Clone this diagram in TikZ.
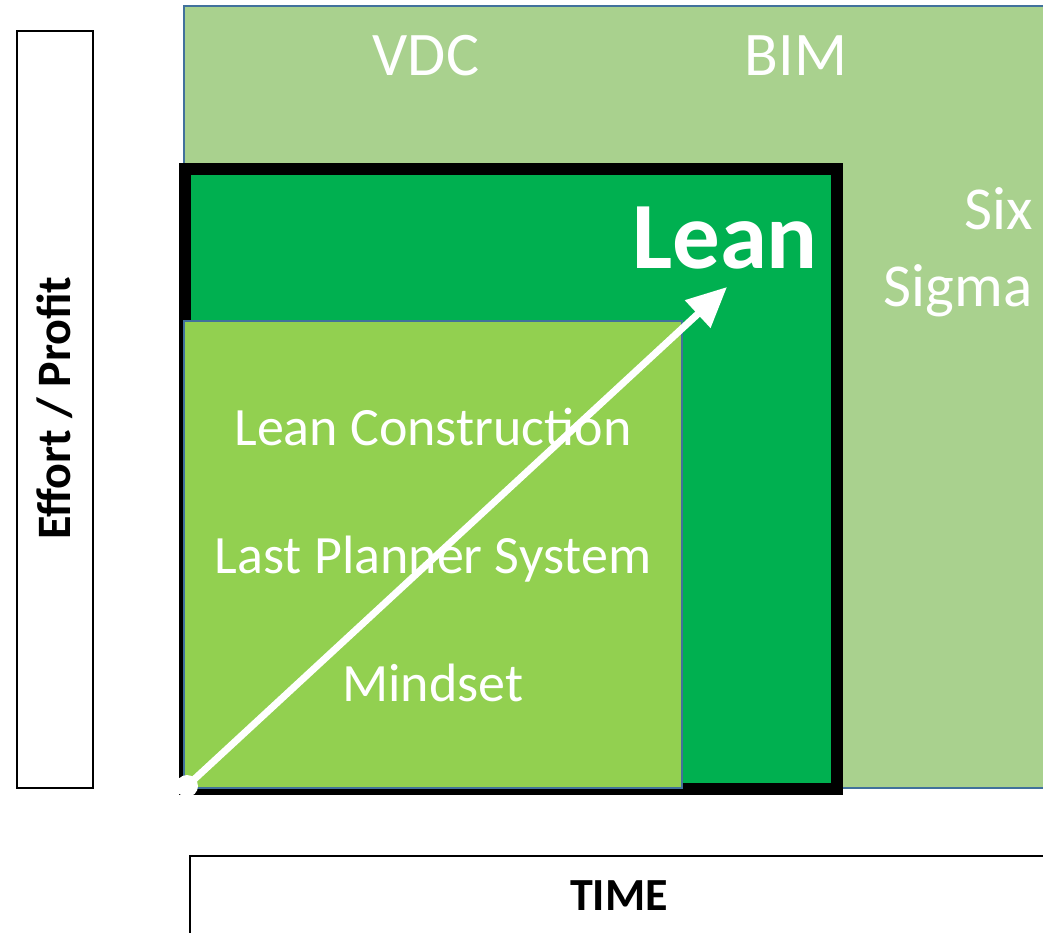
\documentclass[tikz,border=0pt]{standalone}
\usepackage{fontspec}
\setmainfont{Carlito}
\usetikzlibrary{arrows.meta}
\definecolor{paleg}{HTML}{A9D18E}
\definecolor{leang}{HTML}{00B050}
\definecolor{limeg}{HTML}{92D050}
\definecolor{edgeb}{HTML}{41719C}

\begin{document}
\begin{tikzpicture}[x=1pt,y=-1pt,
		zone/.style={draw=edgeb, line width=2pt},
		title/.style={text=white, anchor=base, font=\fontsize{62}{74}\selectfont},
		inlbl/.style={text=white, anchor=base, font=\fontsize{54}{64}\selectfont},
		axislbl/.style={anchor=base, font=\fontsize{46}{54}\selectfont\bfseries}]
		\useasboundingbox (0,0) rectangle (1043,932);
		\clip (0,0) rectangle (1043,932);
		% the three areas
		\filldraw[zone, fill=paleg] (184,6) rectangle (1070,788);
		\filldraw[fill=leang, draw=black, line width=12pt] (185,169) rectangle (837,789);
		\filldraw[zone, fill=limeg] (184,321) rectangle (682,788);
		% axis boxes
		\draw[line width=2pt] (17,31) rectangle (93,788);
		\draw[line width=2pt] (190,856) rectangle (1070,960);
		\node[axislbl, rotate=90, font=\fontsize{48}{56}\selectfont\bfseries] (effort) at (70,408) {Effort / Profit};
		\node[axislbl] (time) at (619,910) {TIME};
		% labels
		\node[title] (vdc) at (426,75) {VDC};
		\node[title] (bim) at (796,75) {BIM};
		\node[title, font=\fontsize{95}{110}\selectfont\bfseries] (lean) at (725,268) {Lean};
		\node[title, font=\fontsize{61}{77}\selectfont, align=right, anchor=base east] (sixsigma) at (1036,306) {Six\\Sigma};
		\node[inlbl] (lc) at (433,445) {Lean Construction};
		\node[inlbl] (lps) at (433,573) {Last Planner System};
		\node[inlbl] (mindset) at (433,701) {Mindset};
		% growth arrow
		\coordinate (arrowstart) at (187,786);
		\coordinate (arrowend) at (727,287);
		\fill[white] (arrowstart) circle (11pt);
		\draw[white, line width=7pt, -{Triangle[length=40pt,width=36pt]}] (arrowstart) -- (arrowend);
	\end{tikzpicture}
\end{document}
